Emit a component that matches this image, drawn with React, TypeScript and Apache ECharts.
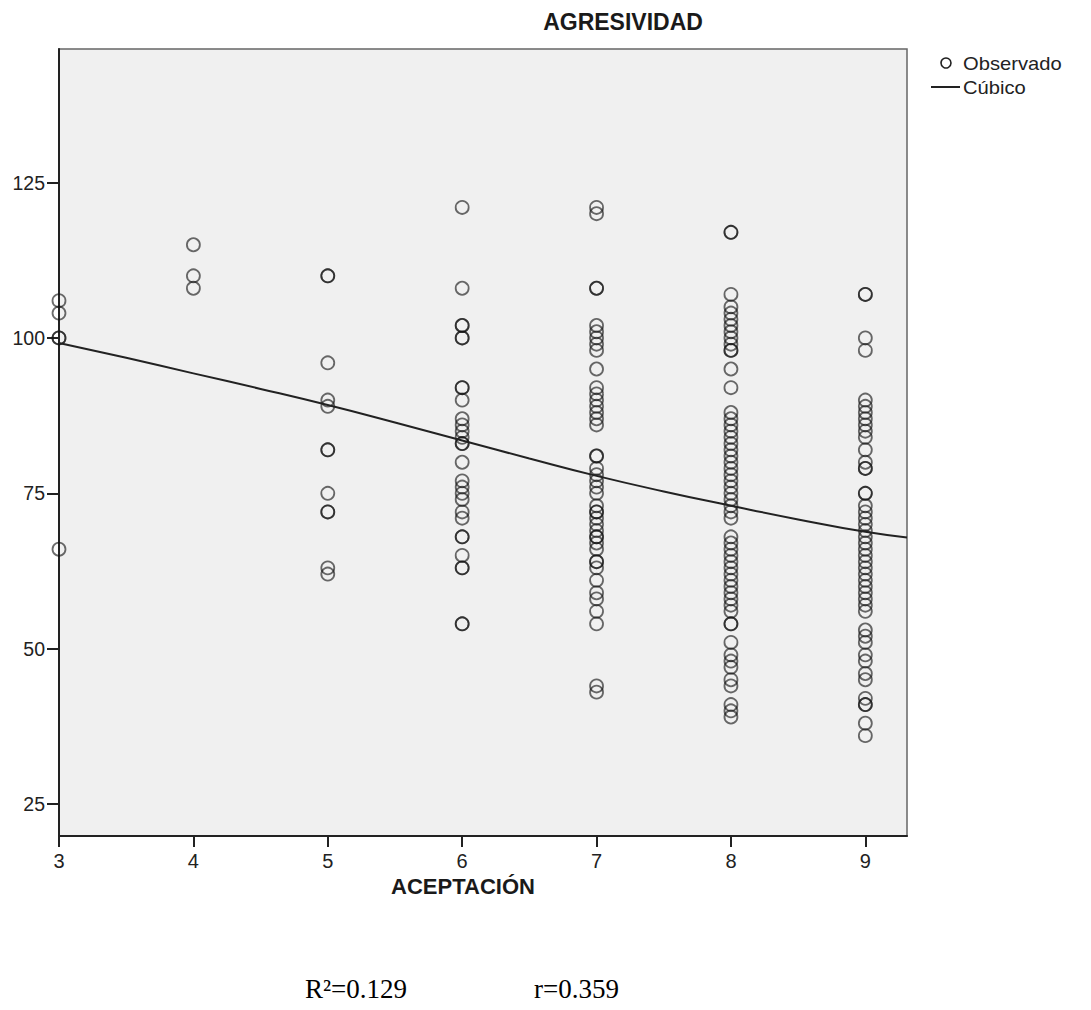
import React, { useEffect, useRef } from "react";
import * as echarts from "echarts";

// ACEPTACIÓN values (x) and observed AGRESIVIDAD values (y) per x value
const xTicks = [3, 4, 5, 6, 7, 8, 9];
const yTicks = [25, 50, 75, 100, 125];

const obs3 = [106, 104, 100, 100, 66];
const obs4 = [115, 110, 108];
const obs5 = [110, 110, 96, 90, 89, 82, 82, 75, 72, 72, 63, 62];
const obs6 = [121, 108, 102, 102, 100, 100, 92, 92, 90, 87, 86, 85, 84, 83, 83, 80, 77, 76, 75, 74, 72, 71, 68, 68, 65, 63, 63, 54, 54];
const obs7 = [121, 120, 108, 108, 102, 101, 100, 99, 98, 95, 92, 91, 90, 89, 88, 87, 86, 81, 81, 79, 78, 77, 76, 75, 73, 72, 72, 71, 70, 69, 68, 68, 67, 66, 64, 64, 63, 61, 59, 58, 56, 54, 44, 43];
const obs8 = [117, 117, 107, 105, 104, 103, 102, 101, 100, 99, 98, 98, 95, 92, 88, 87, 86, 85, 84, 83, 82, 81, 80, 79, 78, 77, 76, 75, 74, 73, 72, 71, 68, 67, 66, 65, 64, 63, 62, 61, 60, 59, 58, 57, 56, 54, 54, 51, 49, 48, 47, 45, 44, 41, 40, 39];
const obs9 = [107, 107, 100, 98, 90, 89, 88, 87, 86, 85, 84, 82, 80, 79, 79, 75, 75, 73, 72, 71, 70, 69, 68, 67, 66, 65, 64, 63, 62, 61, 60, 59, 58, 57, 56, 53, 52, 51, 49, 48, 46, 45, 42, 41, 41, 38, 36];

const observedByX = [obs3, obs4, obs5, obs6, obs7, obs8, obs9];

// Cubic fit curve
const fitX = [3, 3.5, 4, 4.5, 5, 5.5, 6, 6.5, 7, 7.5, 8, 8.5, 9, 9.31];
const fitY = [99.2, 96.8, 94.3, 91.8, 89.2, 86.4, 83.5, 80.6, 77.8, 75.3, 73.0, 70.8, 68.8, 67.9];

const X_MIN = 3;
const X_MAX = 9.31;
const Y_MIN = 19.85;
const Y_MAX = 146.5;

export default function App() {
  const ref = useRef<HTMLDivElement>(null);

  useEffect(() => {
    if (!ref.current) return;
    const chart = echarts.init(ref.current, undefined, { renderer: "svg" });

    const scatterData: number[][] = [];
    xTicks.forEach((x, i) => {
      observedByX[i].forEach((y) => scatterData.push([x, y]));
    });
    const fitData = fitX.map((x, i) => [x, fitY[i]]);

    const sans = '"Liberation Sans", Arial, sans-serif';
    const serif = '"Liberation Serif", "Times New Roman", serif';

    chart.setOption({
      animation: false,
      backgroundColor: "#ffffff",
      grid: {
        left: 59,
        top: 49,
        right: 184,
        bottom: 174,
        show: true,
        backgroundColor: "#f0f0f0",
        borderColor: "#666666",
        borderWidth: 1.5,
      },
      xAxis: {
        type: "value",
        min: X_MIN,
        max: X_MAX,
        splitLine: { show: false },
        axisLine: { show: true, onZero: false, lineStyle: { color: "#222", width: 2 } },
        axisTick: {
          show: true,
          length: 11,
          lineStyle: { color: "#222", width: 2 },
          customValues: xTicks,
        },
        axisLabel: {
          color: "#222",
          fontSize: 20,
          fontFamily: sans,
          margin: 15,
          customValues: xTicks,
        },
      },
      yAxis: {
        type: "value",
        min: Y_MIN,
        max: Y_MAX,
        splitLine: { show: false },
        axisLine: { show: true, onZero: false, lineStyle: { color: "#222", width: 2 } },
        axisTick: {
          show: true,
          length: 12,
          lineStyle: { color: "#222", width: 2 },
          customValues: yTicks,
        },
        axisLabel: {
          color: "#222",
          fontSize: 19.5,
          fontFamily: sans,
          margin: 14,
          customValues: yTicks,
        },
      },
      series: [
        {
          name: "Observado",
          type: "scatter",
          data: scatterData,
          symbol: "circle",
          symbolSize: 13,
          clip: false,
          itemStyle: {
            color: "rgba(0,0,0,0)",
            borderColor: "rgba(20,20,20,0.78)",
            borderWidth: 1.8,
          },
          z: 3,
        },
        {
          name: "Cúbico",
          type: "line",
          data: fitData,
          smooth: true,
          showSymbol: false,
          symbol: "none",
          lineStyle: { color: "#222", width: 2 },
          z: 4,
        },
      ],
      graphic: [
        {
          type: "text",
          x: 623,
          y: 22,
          style: {
            text: "AGRESIVIDAD",
            fontFamily: sans,
            fontWeight: "bold",
            fontSize: 23,
            fill: "#1a1a1a",
            align: "center",
            verticalAlign: "middle",
          },
        },
        {
          type: "text",
          x: 463,
          y: 886,
          style: {
            text: "ACEPTACIÓN",
            fontFamily: sans,
            fontWeight: "bold",
            fontSize: 22,
            fill: "#1a1a1a",
            align: "center",
            verticalAlign: "middle",
          },
        },
        {
          type: "circle",
          shape: { cx: 946, cy: 63, r: 5 },
          style: { fill: "none", stroke: "#222", lineWidth: 1.6 },
        },
        {
          type: "text",
          x: 963,
          y: 64,
          scaleX: 1.12,
          style: {
            text: "Observado",
            fontFamily: sans,
            fontSize: 18,
            fill: "#222",
            align: "left",
            verticalAlign: "middle",
          },
        },
        {
          type: "line",
          shape: { x1: 931, y1: 87, x2: 960, y2: 87 },
          style: { stroke: "#222", lineWidth: 2 },
        },
        {
          type: "text",
          x: 963,
          y: 88,
          scaleX: 1.12,
          style: {
            text: "Cúbico",
            fontFamily: sans,
            fontSize: 18,
            fill: "#222",
            align: "left",
            verticalAlign: "middle",
          },
        },
        {
          type: "text",
          x: 305,
          y: 989,
          style: {
            text: "R²=0.129",
            fontFamily: serif,
            fontSize: 27,
            fill: "#000",
            align: "left",
            verticalAlign: "middle",
          },
        },
        {
          type: "text",
          x: 534,
          y: 989,
          style: {
            text: "r=0.359",
            fontFamily: serif,
            fontSize: 27,
            fill: "#000",
            align: "left",
            verticalAlign: "middle",
          },
        },
      ],
    });

    return () => chart.dispose();
  }, []);

  return (
    <div
      ref={ref}
      style={{ position: "absolute", left: 0, top: 0, width: 1091, height: 1010 }}
    />
  );
}
